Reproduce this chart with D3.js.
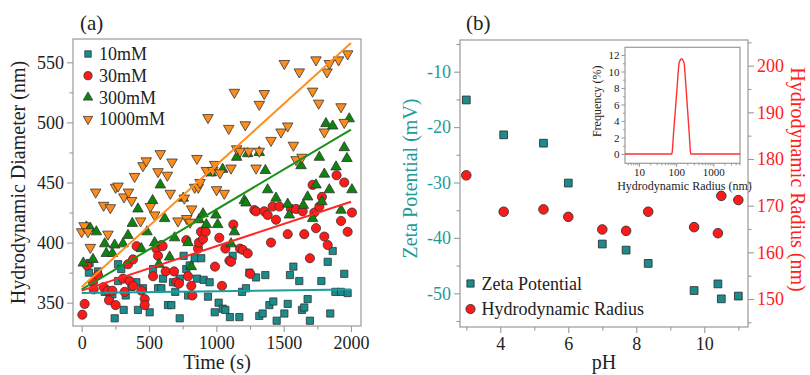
<!DOCTYPE html>
<html><head><meta charset="utf-8">
<script src="https://cdn.jsdelivr.net/npm/d3@7"></script>
<style>
body{margin:0;background:#fff}
svg{display:block}
text{font-family:"Liberation Serif","Times New Roman",serif;fill:#222}
</style>
</head><body>
<svg id="c" width="810" height="375"></svg>
<script>
// ---------- Panel (a) data: [time (s), hydrodynamic diameter (nm)] ----------
const s10mM = [[54,375],[59,383],[121,376],[171,359],[208,356],[228,357],[245,337],[270,382],[270,368],[294,378],[312,344],[327,356],[369,363],[406,367],[418,344],[455,362],[505,342],[530,378],[567,362],[592,362],[604,370],[641,348],[666,348],[678,367],[695,359],[728,370],[728,337],[757,389],[777,378],[790,356],[802,381],[839,387],[856,370],[888,387],[906,369],[938,355],[950,367],[988,342],[1017,350],[1047,345],[1067,344],[1101,338],[1121,389],[1171,338],[1191,359],[1220,362],[1245,375],[1295,371],[1319,339],[1344,341],[1364,373],[1394,348],[1423,351],[1448,335],[1505,341],[1530,349],[1547,373],[1572,380],[1616,368],[1636,344],[1653,346],[1678,353],[1695,335],[1780,368],[1827,384],[1846,341],[1864,393],[1884,359],[1926,359],[1950,374],[1975,358]];
const s30mM = [[5,340],[22,349],[40,381],[84,367],[89,361],[121,373],[163,363],[195,360],[203,352],[228,360],[252,348],[307,370],[319,359],[344,382],[356,368],[381,386],[381,364],[408,397],[443,360],[468,353],[468,348],[530,372],[554,395],[567,389],[592,398],[601,397],[624,376],[686,376],[703,367],[723,366],[777,402],[790,372],[814,364],[822,356],[864,395],[871,400],[886,409],[901,403],[921,409],[990,380],[1022,404],[1042,364],[1067,395],[1097,385],[1109,384],[1126,415],[1176,395],[1196,394],[1233,391],[1252,374],[1282,427],[1295,426],[1356,426],[1381,423],[1406,400],[1418,430],[1443,419],[1468,430],[1530,407],[1554,428],[1592,428],[1641,426],[1653,407],[1695,387],[1715,448],[1728,425],[1740,412],[1765,430],[1784,438],[1802,405],[1827,398],[1893,456],[1926,418],[1950,450],[1975,409],[2007,425]];
const s300mM = [[12,383],[35,413],[64,412],[84,386],[109,409],[171,399],[183,391],[228,391],[245,398],[307,399],[344,406],[376,416],[418,428],[443,395],[485,409],[527,435],[542,400],[574,382],[584,448],[616,420],[653,388],[690,404],[755,437],[790,400],[814,380],[871,419],[901,424],[926,415],[963,458],[997,423],[1010,415],[1047,461],[1109,399],[1134,409],[1151,471],[1208,435],[1220,433],[1233,474],[1319,475],[1364,460],[1381,444],[1443,437],[1530,432],[1542,423],[1629,464],[1646,431],[1678,438],[1715,420],[1740,448],[1765,471],[1784,434],[1802,457],[1814,499],[1839,444],[1864,497],[1889,463],[1926,427],[1950,479],[1970,470],[1987,503],[2007,444]];
const s1000mM = [[0,409],[18,414],[47,409],[64,396],[104,442],[163,431],[195,407],[213,429],[252,446],[270,447],[314,438],[347,442],[371,435],[393,455],[438,418],[455,464],[480,468],[510,430],[542,423],[567,459],[584,474],[636,456],[658,441],[671,467],[715,418],[762,437],[780,420],[805,417],[817,428],[839,446],[856,470],[866,446],[879,450],[926,460],[938,504],[973,460],[988,465],[1002,444],[1027,458],[1059,441],[1092,495],[1109,462],[1134,525],[1151,478],[1176,476],[1215,498],[1240,476],[1295,462],[1319,515],[1319,476],[1356,524],[1406,485],[1480,492],[1505,549],[1530,497],[1572,481],[1592,469],[1616,542],[1636,471],[1715,526],[1740,552],[1760,516],[1802,492],[1822,542],[1839,549],[1908,552],[1926,513],[1950,500],[1975,557]];
const fitTime = [0, 2000];
const fit10mM = [358, 361];
const fit30mM = [360, 434];
const fit300mM = [361, 494];
const fit1000mM = [363, 566];
const legendA = ["10mM","30mM","300mM","1000mM"];
const timeTicks = [0,500,1000,1500,2000];
const diamTicks = [350,400,450,500,550];

// ---------- Panel (b) data ----------
const pH = [3.0,4.1,5.27,6.0,7.0,7.7,8.35,9.7,10.4,10.5,11.0];
const zeta = [-15.1,-21.4,-22.9,-30.1,-41.1,-42.2,-44.6,-49.5,-48.3,-51.0,-50.5];
const pHRadius = [3.0,4.1,5.27,6.0,7.0,7.7,8.35,9.7,10.4,10.5,11.0];
const radius = [176.5,168.7,169.2,167.6,164.9,164.6,168.7,165.4,164.1,172.1,171.2];
const pHTicks = [4,6,8,10];
const zetaTicks = [-10,-20,-30,-40,-50];
const radiusTicks = [150,160,170,180,190,200];
const legendB = ["Zeta Potential","Hydrodynamic Radius"];
// inset: size distribution
const insetRadius = [4.2,76,78,86,96,107,120,130,140,151,164,182,202,224,244,250,5300];
const insetFreq =   [0,0,0.2,2.8,5.5,8.3,11.0,11.4,11.55,11.4,11.0,8.4,5.5,2.6,0.2,0,0];
const insetXTicks = [10,100,1000];
const insetYTicks = [0,2,4,6,8,10,12];

// ---------- styling ----------
const C = {
  teal:"#1a8c8c", red:"#ff1a1a", green:"#0c850c", orange:"#ff8c1a",
  tealLine:"#1a9e9e", redLine:"#ff2626", greenLine:"#1a8f1a", orangeLine:"#ff8f1f",
  tealText:"#1f9a9a", redText:"#ff2020",
  frame:"#9a9a9a", stroke:"#333"
};
const svg = d3.select("#c");

function frame(g,x0,y0,x1,y1){
  g.append("rect").attr("x",x0).attr("y",y0).attr("width",x1-x0).attr("height",y1-y0)
   .attr("fill","none").attr("stroke",C.frame).attr("stroke-width",1.2);
}
function styleAxis(sel, labelColor, fs){
  sel.select(".domain").remove();
  sel.selectAll(".tick line").attr("stroke",C.frame).attr("stroke-width",1.1);
  sel.selectAll(".tick text").attr("font-size",fs).style("fill",labelColor)
    .attr("font-family",'"Liberation Serif","Times New Roman",serif');
}
function minorVals(domain, step){
  const a=[]; const s=Math.ceil(domain[0]/step)*step;
  for(let v=s; v<=domain[1]+1e-9; v+=step) a.push(+v.toFixed(6));
  return a;
}
const sym = (type,size)=>d3.symbol().type(type).size(size)();

// ================= Panel (a) =================
const A = {l:73,r:361,t:39,b:326};
const xa = d3.scaleLinear().domain([-64.4,2074.3]).range([A.l,A.r]);
const ya = d3.scaleLinear().domain([330.6,569.4]).range([A.b,A.t]);
const ga = svg.append("g");

ga.append("g").attr("transform",`translate(0,${A.b})`)
  .call(d3.axisBottom(xa).tickValues(minorVals(xa.domain(),250).filter(v=>v%500!==0)).tickSize(3.5).tickFormat(""))
  .call(s=>styleAxis(s,"#222",18));
ga.append("g").attr("transform",`translate(${A.l},0)`)
  .call(d3.axisLeft(ya).tickValues(minorVals(ya.domain(),25).filter(v=>v%50!==0)).tickSize(3.5).tickFormat(""))
  .call(s=>styleAxis(s,"#222",18));
ga.append("g").attr("transform",`translate(0,${A.b})`)
  .call(d3.axisBottom(xa).tickValues(timeTicks).tickSize(6).tickPadding(4).tickFormat(d3.format("d")))
  .call(s=>styleAxis(s,"#222",18));
ga.append("g").attr("transform",`translate(${A.l},0)`)
  .call(d3.axisLeft(ya).tickValues(diamTicks).tickSize(6).tickPadding(3).tickFormat(d3.format("d")))
  .call(s=>styleAxis(s,"#222",18));
frame(ga,A.l,A.t,A.r,A.b);

svg.append("clipPath").attr("id","clipA").append("rect")
  .attr("x",A.l).attr("y",A.t).attr("width",A.r-A.l).attr("height",A.b-A.t);
const pa = ga.append("g").attr("clip-path","url(#clipA)");

const seriesA = [
  {data:s10mM, fill:C.teal, shape:"sq"},
  {data:s30mM, fill:C.red, shape:"ci"},
  {data:s300mM, fill:C.green, shape:"up"},
  {data:s1000mM, fill:C.orange, shape:"dn"}
];
function markerPath(shape, scale){
  scale = scale||1;
  if(shape==="sq") return sym(d3.symbolSquare,52*scale);
  if(shape==="ci") return sym(d3.symbolCircle,66*scale);
  return sym(d3.symbolTriangle,48*scale);
}
function markerTransform(shape,x,y){
  if(shape==="dn") return `translate(${x},${y}) rotate(180)`;
  return `translate(${x},${y})`;
}
seriesA.forEach(s=>{
  pa.append("g").selectAll("path").data(s.data).join("path")
    .attr("d",markerPath(s.shape))
    .attr("transform",d=>markerTransform(s.shape,xa(d[0]),ya(d[1])))
    .attr("fill",s.fill).attr("stroke",C.stroke).attr("stroke-width",0.8);
});
const fitsA = [
  {v:fit10mM, c:C.tealLine},{v:fit30mM, c:C.redLine},
  {v:fit300mM, c:C.greenLine},{v:fit1000mM, c:C.orangeLine}
];
const lineA = d3.line().x(d=>xa(d[0])).y(d=>ya(d[1]));
fitsA.forEach(f=>{
  pa.append("path").attr("d",lineA(fitTime.map((t,i)=>[t,f.v[i]])))
    .attr("fill","none").attr("stroke",f.c).attr("stroke-width",2);
});
legendA.forEach((name,i)=>{
  const y = 54 + i*21.7;
  const s = seriesA[i];
  ga.append("path").attr("d",markerPath(s.shape,0.8))
    .attr("transform",markerTransform(s.shape,88,y))
    .attr("fill",s.fill).attr("stroke",C.stroke).attr("stroke-width",0.8);
  ga.append("text").attr("x",99).attr("y",y).attr("dy","0.34em")
    .attr("font-size",18).text(name);
});
ga.append("text").attr("x",80).attr("y",30).attr("font-size",21).text("(a)");
ga.append("text").attr("x",(A.l+A.r)/2).attr("y",369).attr("text-anchor","middle")
  .attr("font-size",20).text("Time (s)");
ga.append("text").attr("transform",`translate(25,${(A.t+A.b)/2}) rotate(-90)`)
  .attr("text-anchor","middle").attr("font-size",20).text("Hydrodynamic Diameter (nm)");

// ================= Panel (b) =================
const B = {l:460,r:748,t:40,b:327};
const xb = d3.scaleLinear().domain([2.815,11.285]).range([B.l,B.r]);
const yz = d3.scaleLinear().domain([-56.08,-4.28]).range([B.b,B.t]);
const yr = d3.scaleLinear().domain([144.0,205.5]).range([B.b,B.t]);
const gb = svg.append("g");

gb.append("g").attr("transform",`translate(0,${B.b})`)
  .call(d3.axisBottom(xb).tickValues([3,5,7,9,11]).tickSize(3.5).tickFormat(""))
  .call(s=>styleAxis(s,"#222",18));
gb.append("g").attr("transform",`translate(0,${B.b})`)
  .call(d3.axisBottom(xb).tickValues(pHTicks).tickSize(6).tickPadding(4).tickFormat(d3.format("d")))
  .call(s=>styleAxis(s,"#222",18));
gb.append("g").attr("transform",`translate(${B.l},0)`)
  .call(d3.axisLeft(yz).tickValues([-5,-15,-25,-35,-45,-55]).tickSize(3.5).tickFormat(""))
  .call(s=>styleAxis(s,C.tealText,18));
gb.append("g").attr("transform",`translate(${B.l},0)`)
  .call(d3.axisLeft(yz).tickValues(zetaTicks).tickSize(6).tickPadding(3).tickFormat(d=>String(d)))
  .call(s=>styleAxis(s,C.tealText,18));
gb.append("g").attr("transform",`translate(${B.r},0)`)
  .call(d3.axisRight(yr).tickValues([145,155,165,175,185,195,205]).tickSize(3.5).tickFormat(""))
  .call(s=>styleAxis(s,C.redText,18));
gb.append("g").attr("transform",`translate(${B.r},0)`)
  .call(d3.axisRight(yr).tickValues(radiusTicks).tickSize(6).tickPadding(3).tickFormat(d3.format("d")))
  .call(s=>styleAxis(s,C.redText,18));
frame(gb,B.l,B.t,B.r,B.b);

gb.append("g").selectAll("path").data(pH.map((p,i)=>[p,zeta[i]])).join("path")
  .attr("d",sym(d3.symbolSquare,60))
  .attr("transform",d=>`translate(${xb(d[0])},${yz(d[1])})`)
  .attr("fill",C.teal).attr("stroke",C.stroke).attr("stroke-width",0.9);
gb.append("g").selectAll("path").data(pHRadius.map((p,i)=>[p,radius[i]])).join("path")
  .attr("d",sym(d3.symbolCircle,72))
  .attr("transform",d=>`translate(${xb(d[0])},${yr(d[1])})`)
  .attr("fill",C.red).attr("stroke",C.stroke).attr("stroke-width",0.9);

const legBShapes = [{d:sym(d3.symbolSquare,52),f:C.teal},{d:sym(d3.symbolCircle,66),f:C.red}];
legendB.forEach((name,i)=>{
  const y = 283.5 + i*25.5;
  gb.append("path").attr("d",legBShapes[i].d).attr("transform",`translate(470.5,${y})`)
    .attr("fill",legBShapes[i].f).attr("stroke",C.stroke).attr("stroke-width",0.9);
  gb.append("text").attr("x",481.5).attr("y",y).attr("dy","0.34em").attr("font-size",18).text(name);
});
gb.append("text").attr("x",466).attr("y",30).attr("font-size",21).text("(b)");
gb.append("text").attr("x",(B.l+B.r)/2).attr("y",369).attr("text-anchor","middle")
  .attr("font-size",20).text("pH");
gb.append("text").attr("transform",`translate(417,${(B.t+B.b)/2-5}) rotate(-90)`)
  .attr("text-anchor","middle").attr("font-size",20).style("fill",C.tealText).text("Zeta Potential (mV)");
gb.append("text").attr("transform",`translate(791,${(B.t+B.b)/2-4}) rotate(90)`)
  .attr("text-anchor","middle").attr("font-size",20).style("fill",C.redText).text("Hydrodynamic Radius (nm)");

// ---- inset ----
const I = {l:625,r:740,t:47.3,b:163.3};
const xi = d3.scaleLog().domain([4.2,5240]).range([I.l,I.r]);
const yi = d3.scaleLinear().domain([-1.13,12.93]).range([I.b,I.t]);
const gi = svg.append("g");
gi.append("rect").attr("x",I.l).attr("y",I.t).attr("width",I.r-I.l).attr("height",I.b-I.t).attr("fill","#fff");
const minorLog = [];
[1,10,100,1000].forEach(dec=>{for(let k=2;k<=9;k++){const v=k*dec; if(v>=4.2&&v<=5240) minorLog.push(v);}});
gi.append("g").attr("transform",`translate(0,${I.b})`)
  .call(d3.axisBottom(xi).tickValues(minorLog).tickSize(2).tickFormat(""))
  .call(s=>styleAxis(s,"#222",11));
gi.append("g").attr("transform",`translate(0,${I.b})`)
  .call(d3.axisBottom(xi).tickValues(insetXTicks).tickSize(3.5).tickPadding(1).tickFormat(d3.format("d")))
  .call(s=>styleAxis(s,"#222",11));
gi.append("g").attr("transform",`translate(${I.l},0)`)
  .call(d3.axisLeft(yi).tickValues([1,3,5,7,9,11]).tickSize(2).tickFormat(""))
  .call(s=>styleAxis(s,"#222",11));
gi.append("g").attr("transform",`translate(${I.l},0)`)
  .call(d3.axisLeft(yi).tickValues(insetYTicks).tickSize(3.5).tickPadding(2).tickFormat(d3.format("d")))
  .call(s=>styleAxis(s,"#222",11));
frame(gi,I.l,I.t,I.r,I.b);
gi.append("path")
  .attr("d",d3.line().x(d=>xi(d)).y((d,i)=>yi(insetFreq[i])).curve(d3.curveMonotoneX)(insetRadius))
  .attr("fill","none").attr("stroke","#ff3030").attr("stroke-width",1.4);
gi.append("text").attr("x",(I.l+I.r)/2+2).attr("y",189.5).attr("text-anchor","middle")
  .attr("font-size",12).text("Hydrodynamic Radius (nm)");
gi.append("text").attr("transform",`translate(601,${(I.t+I.b)/2-4}) rotate(-90)`)
  .attr("text-anchor","middle").attr("font-size",12).text("Frequency (%)");
</script>
</body></html>
